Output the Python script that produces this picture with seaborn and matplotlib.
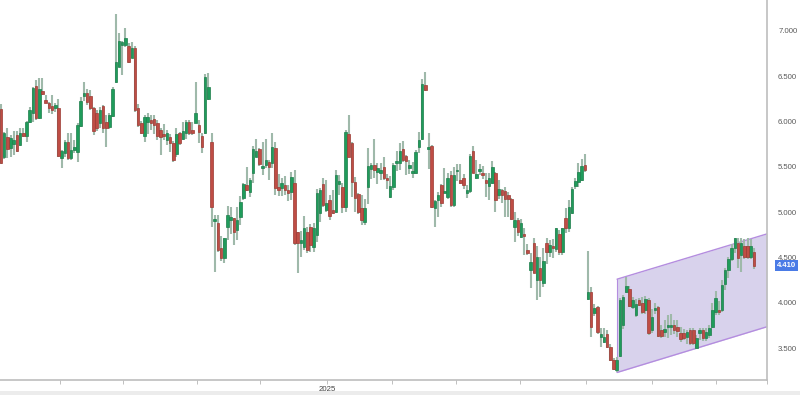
import matplotlib
matplotlib.use("Agg")
import matplotlib.pyplot as plt
import matplotlib.transforms as mtransforms
from matplotlib.patches import Rectangle
import numpy as np
import pandas as pd
import seaborn as sns

# ---------------- data ----------------
opens = [6.14,5.61,5.83,5.71,5.75,5.85,5.74,5.87,5.84,6.00,6.09,6.39,6.04,6.34,6.24,6.20,6.17,6.15,6.15,5.60,
         5.65,5.77,5.60,5.69,5.66,5.95,6.28,6.31,6.28,6.15,6.10,5.98,6.17,5.99,5.94,6.06,6.44,6.60,6.85,6.85,
         6.83,6.70,6.81,6.15,5.98,5.84,6.00,6.02,6.03,5.98,5.91,5.86,5.80,5.83,5.76,5.64,5.87,5.81,5.87,6.00,
         5.91,5.98,5.96,5.84,5.87,6.25,5.77,4.90,4.88,4.60,4.49,4.84,4.91,4.93,4.80,4.95,5.16,5.30,5.22,5.43,
         5.61,5.70,5.49,5.52,5.55,5.54,5.71,5.28,5.27,5.30,5.25,5.22,5.32,4.78,4.66,4.62,4.78,4.84,4.62,4.75,
         4.99,5.31,5.02,5.13,5.02,5.00,5.31,5.28,5.06,5.86,5.76,5.33,5.20,5.05,4.89,5.28,5.48,5.52,5.44,5.43,
         5.50,5.38,5.17,5.28,5.54,5.54,5.70,5.62,5.49,5.43,5.43,5.72,5.81,6.40,5.70,5.73,5.05,5.13,5.30,5.21,
         5.17,5.41,5.08,5.45,5.35,5.38,5.21,5.23,5.67,5.38,5.45,5.43,5.35,5.29,5.32,5.43,5.19,5.24,5.23,5.19,
         5.15,4.84,4.91,4.73,4.76,4.58,4.36,4.66,4.25,4.38,4.22,4.66,4.56,4.63,4.59,4.76,4.56,4.94,4.83,4.99,
         5.29,5.33,5.35,5.52,4.04,4.12,3.89,3.95,3.62,3.57,3.65,3.51,3.37,3.26,3.41,3.75,4.12,4.15,3.95,3.86,
         4.03,4.00,3.92,4.03,3.70,3.92,3.95,3.70,3.68,3.73,3.73,3.75,3.73,3.67,3.67,3.62,3.70,3.70,3.50,3.67,
         3.70,3.61,3.64,3.73,3.90,3.92,3.92,4.21,4.36,4.48,4.60,4.66,4.53,4.63,4.63,4.50,4.56]
highs = [6.19,5.89,5.93,5.85,5.90,5.90,5.93,5.93,6.01,6.16,6.38,6.46,6.48,6.48,6.29,6.22,6.29,6.20,6.25,5.69,
         5.80,5.87,5.87,5.80,5.98,6.27,6.44,6.36,6.35,6.16,6.13,6.16,6.18,6.07,6.09,6.38,7.19,6.98,6.89,7.03,
         6.87,6.88,6.83,6.19,6.01,6.07,6.10,6.07,6.07,6.02,5.93,5.97,5.91,5.86,5.78,5.93,5.89,6.00,6.02,6.02,
         6.00,6.44,6.02,5.87,6.52,6.54,5.87,4.97,4.97,4.74,4.72,5.07,5.06,4.94,5.06,5.18,5.32,5.50,5.38,5.73,
         5.81,5.71,5.77,5.81,5.58,5.87,5.77,5.42,5.38,5.40,5.30,5.44,5.47,4.78,4.79,4.96,4.84,4.87,4.88,5.26,
         5.27,5.38,5.36,5.19,5.24,5.47,5.41,5.32,5.91,6.07,5.77,5.39,5.21,5.19,5.15,5.71,5.54,5.81,5.54,5.54,
         5.61,5.42,5.40,5.54,5.67,5.76,5.79,5.63,5.58,5.55,5.69,5.89,6.47,6.55,5.87,5.74,5.13,5.22,5.31,5.49,
         5.43,5.45,5.50,5.53,5.53,5.42,5.30,5.64,5.73,5.58,5.53,5.51,5.43,5.43,5.57,5.44,5.35,5.26,5.28,5.22,
         5.16,5.00,4.93,4.92,4.83,4.65,4.55,4.72,4.63,4.50,4.60,4.72,4.69,4.70,4.83,4.80,4.83,5.05,5.13,5.28,
         5.38,5.54,5.59,5.64,4.57,4.17,3.99,3.96,3.72,3.72,3.70,3.54,3.39,3.40,4.05,4.08,4.28,4.18,4.06,4.04,
         4.05,4.06,4.07,4.05,3.93,4.00,3.96,3.75,3.81,3.86,3.88,3.81,3.81,3.73,3.71,3.70,3.72,3.72,3.64,3.72,
         3.72,3.72,3.75,4.00,4.13,4.02,4.25,4.38,4.50,4.65,4.72,4.72,4.72,4.70,4.72,4.70,4.60]
lows = [5.53,5.59,5.60,5.61,5.63,5.66,5.73,5.83,5.77,5.98,5.99,6.02,6.03,6.29,6.20,6.09,6.08,6.11,5.61,5.49,
        5.61,5.58,5.58,5.65,5.55,5.94,6.23,6.18,6.13,5.85,5.90,5.93,5.87,5.72,5.92,6.05,6.43,6.60,6.51,6.82,
        6.65,6.70,6.11,5.94,5.86,5.77,5.86,5.91,5.86,5.80,5.63,5.80,5.74,5.66,5.55,5.61,5.74,5.80,5.81,5.85,
        5.85,5.98,5.76,5.65,5.86,6.24,4.84,4.34,4.56,4.46,4.44,4.69,4.76,4.64,4.69,4.86,5.13,5.23,5.17,5.32,
        5.61,5.51,5.41,5.49,5.35,5.49,5.19,5.18,5.18,5.19,5.12,5.13,4.64,4.33,4.51,4.58,4.55,4.56,4.56,4.67,
        4.89,5.06,5.00,4.91,4.98,4.99,5.19,4.99,5.00,5.61,5.17,5.00,4.98,4.86,4.86,5.09,5.37,5.38,5.31,5.36,
        5.35,5.26,5.16,5.25,5.45,5.47,5.55,5.41,5.42,5.38,5.42,5.65,5.80,6.34,5.48,5.05,4.84,4.95,5.06,5.21,
        5.15,5.06,5.06,5.34,5.31,5.26,5.16,5.21,5.43,5.37,5.41,5.37,5.17,5.13,5.31,5.00,5.15,5.10,4.95,4.95,
        4.91,4.67,4.74,4.71,4.53,4.53,4.16,4.33,4.03,4.06,4.17,4.43,4.50,4.49,4.56,4.53,4.53,4.77,4.78,4.98,
        5.26,5.28,5.34,5.44,4.03,3.62,3.85,3.66,3.51,3.56,3.50,3.36,3.26,3.24,3.40,3.71,4.11,3.95,3.93,3.84,
        3.96,3.88,3.88,3.64,3.67,3.88,3.62,3.61,3.62,3.61,3.64,3.66,3.62,3.57,3.59,3.54,3.53,3.53,3.49,3.59,
        3.58,3.58,3.61,3.72,3.87,3.87,3.90,4.14,4.27,4.46,4.55,4.38,4.34,4.48,4.48,4.48,4.37]
closes = [5.54,5.87,5.70,5.82,5.80,5.68,5.87,5.84,6.00,6.13,6.37,6.04,6.36,6.30,6.21,6.15,6.13,6.18,5.62,5.67,
          5.77,5.60,5.69,5.72,5.96,6.23,6.31,6.22,6.15,5.90,5.93,6.13,5.93,5.93,6.07,6.36,6.66,6.89,6.88,6.92,
          6.66,6.81,6.13,5.96,5.87,6.05,6.05,5.98,5.96,5.84,5.83,5.84,5.87,5.76,5.58,5.86,5.76,5.90,6.00,5.87,
          5.87,6.09,5.88,5.72,6.49,6.38,5.06,4.92,4.58,4.49,4.71,4.97,4.95,4.78,4.91,5.11,5.31,5.24,5.36,5.70,
          5.68,5.53,5.51,5.58,5.50,5.72,5.27,5.24,5.32,5.25,5.21,5.39,4.66,4.66,4.69,4.83,4.58,4.64,4.83,5.21,
          5.24,5.08,5.10,4.96,4.99,5.41,5.34,5.06,5.88,5.61,5.33,5.16,5.00,4.91,5.05,5.51,5.52,5.47,5.49,5.47,
          5.38,5.35,5.29,5.52,5.56,5.67,5.58,5.57,5.52,5.45,5.66,5.80,6.42,6.35,5.72,5.06,5.12,5.19,5.10,5.23,
          5.38,5.08,5.41,5.47,5.32,5.30,5.24,5.62,5.43,5.42,5.48,5.41,5.32,5.38,5.50,5.13,5.26,5.19,5.15,5.14,
          4.92,4.91,4.78,4.88,4.74,4.55,4.45,4.33,4.50,4.25,4.46,4.56,4.64,4.60,4.82,4.56,4.82,4.83,5.06,5.26,
          5.34,5.44,5.51,5.47,4.12,3.73,3.94,3.68,3.66,3.62,3.51,3.37,3.27,3.37,4.03,4.06,4.19,3.96,4.03,3.99,
          3.98,3.90,4.04,3.67,3.84,3.94,3.63,3.63,3.71,3.75,3.75,3.70,3.69,3.60,3.61,3.68,3.56,3.56,3.61,3.70,
          3.61,3.68,3.72,3.92,4.05,3.90,4.20,4.36,4.48,4.60,4.71,4.49,4.66,4.50,4.50,4.63,4.41]

# trend channel (candle index, price)
channel_x = [193.1, 240.1]
channel_upper = [4.26, 4.76]
channel_lower = [3.23, 3.735]

y_ticks = [3.5, 4.0, 4.5, 5.0, 5.5, 6.0, 6.5, 7.0]
y_tick_labels = ["3.500", "4.000", "4.500", "5.000", "5.500", "6.000", "6.500", "7.000"]
x_tick_pos = [18.5, 38.2, 61.4, 81.2, 102.2, 122.6, 142.6, 162.7, 183.4, 204.1, 224.1, 240.1]
x_tick_labels = ["", "", "", "", "2025", "", "", "", "", "", "", ""]
last_price = 4.41
last_label = "4.410"

df = pd.DataFrame({"open": opens, "high": highs, "low": lows, "close": closes})
df["idx"] = np.arange(len(df))
df["up"] = df["close"] >= df["open"]

# ---------------- style ----------------
sns.set_theme(style="white")
plt.rcParams["font.family"] = ["Liberation Sans", "DejaVu Sans"]

fig = plt.figure(figsize=(8, 3.95), dpi=100)
ax = fig.add_axes([0, 15 / 395, 767 / 800, 380 / 395])

# channel
ax.fill_between(channel_x, channel_lower, channel_upper, color="#d8d2ec", zorder=1, linewidth=0)
ax.plot(channel_x, channel_upper, color="#b48ddf", lw=1.0, zorder=2)
ax.plot(channel_x, channel_lower, color="#b48ddf", lw=1.0, zorder=2)
ax.plot([channel_x[0], channel_x[0]], [channel_lower[0], channel_upper[0]], color="#b48ddf", lw=0.8, zorder=2)

# wicks
ax.vlines(df["idx"], df["low"], df["high"], color="#9fb9aa", lw=1.5, zorder=3)

# bodies
bw = 0.8
for up, face, edge in [(True, "#1f9c5b", "#1d7d4b"), (False, "#bf4d45", "#9b3a33")]:
    sub = df[df["up"] == up]
    bottom = np.minimum(sub["open"], sub["close"])
    height = np.maximum(np.abs(sub["close"] - sub["open"]), 0.015)
    ax.bar(sub["idx"], height, bottom=bottom, width=bw, color=face, edgecolor=edge,
           linewidth=0.5, zorder=4)

ax.set_xlim(-0.31, 240.1)
ax.set_ylim(3.147, 7.342)

ax.yaxis.tick_right()
ax.set_yticks(y_ticks)
ax.set_yticklabels(y_tick_labels)
ax.set_xticks(x_tick_pos)
ax.set_xticklabels(x_tick_labels)
ax.tick_params(axis="y", length=3, width=0.6, color="#b5b5b5", pad=5, labelsize=5.6,
               labelcolor="#5a5a5a", right=True, left=False)
ax.tick_params(axis="x", length=3, width=0.6, color="#b5b5b5", pad=1.5, labelsize=5.6,
               labelcolor="#444444", bottom=True)

sns.despine(ax=ax, left=True, top=True, right=False, bottom=False)
for side in ["right", "bottom"]:
    ax.spines[side].set_color("#bdbdbd")
    ax.spines[side].set_linewidth(1.2)
ax.grid(False)

trans = mtransforms.blended_transform_factory(ax.transAxes, ax.transData)
ax.text(1.0135, last_price, last_label, transform=trans, ha="left", va="center",
        color="white", fontsize=5.6, fontweight="bold", zorder=10, clip_on=False,
        bbox=dict(boxstyle="square,pad=0.25", fc="#4a7be6", ec="none"))

fig.patches.append(Rectangle((0, 0), 1, 4 / 395, transform=fig.transFigure,
                             facecolor="#ececec", edgecolor="none", zorder=0))

fig.savefig("out.png", dpi=100)
